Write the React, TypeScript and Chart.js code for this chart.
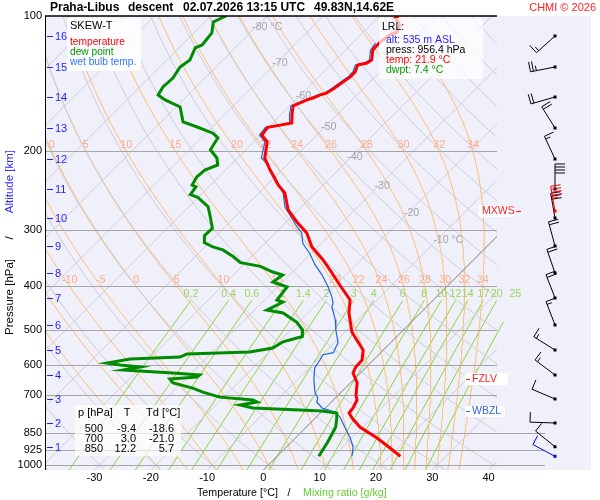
import { useEffect, useRef } from "react"
import { Chart, registerables } from "chart.js"

Chart.register(...registerables)

const FONT = '"Liberation Sans", Arial, sans-serif'

// diagram frame: log pressure vertically, skewed temperature horizontally
const P_TOP = 100
const P_BOTTOM = 1026
const X_MIN = -38.8
const X_MAX = 41.5
const AREA = { left: 45, top: 16, right: 497, bottom: 470 }
const SKEW =
  (AREA.bottom - AREA.top) / Math.log10(P_BOTTOM / P_TOP) / ((AREA.right - AREA.left) / (X_MAX - X_MIN))

// axis ticks
const pressureTicks = [100, 200, 300, 400, 500, 600, 700, 850, 925, 1000]
const longPressureTicks = [850, 925, 1000]
const temperatureTicks = [-30, -20, -10, 0, 10, 20, 30, 40]

// altitude marks [km] and their pressure [hPa]
const altitudeKm = [16, 15, 14, 13, 12, 11, 10, 9, 8, 7, 6, 5, 4, 3, 2, 1]
const altitudePressure = [110.8, 129.9, 151.5, 177.6, 208.2, 242.8, 281.8, 325.3, 373.6, 424.7, 487.7, 554.5, 630.3, 712.8, 806.3, 910.6]

// temperature profile
const tempPressure = [100, 101.0, 104.7, 108.6, 110.2, 114.3, 119.0, 125.3, 127.3, 128.6, 133.3, 136.7, 140.3, 144.7, 148.4, 150.0, 152.3, 153.8, 156.2, 158.6, 164.5, 173.1, 175.0, 177.0, 184.1, 190.8, 207.1, 220.3, 237.9, 247.9, 270.4, 287.6, 304.3, 326.9, 349.5, 373.6, 397.3, 429.1, 458.6, 505.6, 526.8, 554.5, 583.7, 605.0, 623.9, 656.7, 700.0, 716.5, 746.5, 765.9, 785.8, 822.9, 870.7, 916.5, 956.4]
const tempValues = [-56.7, -56.9, -54.8, -54.1, -54.8, -55.3, -55.2, -53.6, -53.9, -55.2, -54.4, -54.4, -54.8, -55.2, -55.7, -56.6, -57.3, -58.0, -58.7, -59.4, -58.3, -56.6, -58.3, -60.1, -59.8, -57.6, -55.2, -52.1, -48.0, -45.4, -41.8, -38.1, -34.4, -31.0, -26.7, -22.8, -19.3, -14.8, -12.7, -8.8, -6.5, -3.6, -2.0, -1.9, -1.3, 1.2, 3.2, 4.2, 4.9, 5.1, 6.5, 9.5, 14.5, 18.6, 21.9]

// dew point profile
const dewPressure = [100, 103.1, 109.1, 116.0, 117.8, 125.3, 129.9, 137.5, 143.9, 150.0, 153.8, 159.4, 172.2, 176.7, 182.4, 186.8, 198.6, 207.1, 214.7, 220.3, 228.3, 237.9, 240.1, 249.9, 253.4, 265.9, 277.5, 297.1, 308.3, 319.5, 326.9, 331.9, 343.4, 354.4, 361.1, 371.7, 377.6, 391.3, 401.4, 429.1, 433.5, 451.8, 458.6, 481.0, 500.5, 517.4, 531.7, 549.0, 560.3, 566.1, 574.9, 580.8, 592.8, 598.9, 605.0, 614.4, 623.9, 630.3, 636.8, 643.4, 656.7, 674.0, 688.0, 706.1, 716.5, 723.9, 735.2, 746.5, 754.2, 758.0, 765.9, 785.8, 822.9, 858.4, 892.1, 956.4]
const dewValues = [-87.3, -88.5, -86.8, -86.4, -87.1, -85.9, -86.4, -85.7, -85.9, -85.3, -83.2, -79.3, -76.1, -72.7, -68.8, -67.1, -66.3, -63.7, -62.3, -63.7, -63.9, -63.3, -62.3, -61.9, -60.1, -56.6, -54.8, -52.0, -52.1, -50.9, -48.6, -46.3, -43.3, -40.9, -36.7, -33.5, -31.2, -31.7, -28.3, -27.8, -26.4, -27.8, -24.4, -20.3, -17.9, -16.8, -19.3, -20.0, -23.4, -34.2, -34.9, -43.4, -46.8, -44.1, -40.2, -42.7, -33.3, -28.2, -28.3, -32.8, -31.5, -27.1, -24.6, -20.7, -14.3, -13.2, -15.7, -12.9, -4.2, -0.1, 2.9, 3.8, 5.2, 5.9, 6.5, 7.4]

// wet bulb profile
const wetPressure = [114.9, 119.0, 125.3, 127.3, 128.6, 133.3, 136.7, 140.3, 144.7, 148.4, 150.0, 152.3, 153.8, 156.2, 158.6, 164.5, 173.1, 175.0, 177.0, 184.1, 190.8, 207.1, 212.8, 228.3, 247.9, 266.3, 277.5, 295.0, 304.3, 320.7, 337.6, 358.0, 377.6, 401.4, 422.2, 435.7, 444.5, 475.1, 500.4, 534.9, 545.1, 562.2, 567.9, 583.7, 608.1, 643.4, 688.0, 709.7, 723.9, 746.5, 762.0, 781.8, 822.9, 866.3, 910.6, 956.4]
const wetValues = [-55.9, -55.6, -54.0, -54.3, -55.6, -54.8, -54.8, -55.2, -55.6, -56.1, -57.0, -57.7, -58.4, -59.1, -59.8, -58.7, -57.0, -58.7, -60.5, -60.2, -58.0, -55.8, -53.9, -50.0, -45.7, -42.9, -40.6, -37.2, -35.3, -33.3, -30.3, -27.3, -24.2, -21.0, -18.6, -17.3, -16.8, -13.9, -12.0, -9.3, -9.0, -8.4, -9.9, -9.5, -9.0, -7.2, -4.7, -3.1, -2.6, -0.6, 2.4, 4.2, 6.8, 9.5, 11.8, 13.3]

// wind barbs (one per km level + surface)
const windPressure = [110.8, 129.9, 151.5, 177.6, 208.2, 242.8, 281.8, 325.3, 373.6, 424.7, 487.7, 554.5, 630.3, 712.8, 806.3, 910.6, 956.4]
const windDirection = [228, 259, 254, 328, 335, 0, 350, 345, 341, 339, 339, 302, 307, 293, 272, 309, 298]
const windSpeed = [15, 25, 20, 20, 15, 40, 30, 20, 20, 20, 15, 15, 15, 10, 10, 10, 10]
const maxWind = { pressure: 271.9, direction: 350, speed: 45 }

// levels
const freezingLevel = 643.6
const wetBulbZeroLevel = 758

// table
const tablePressure = [500, 700, 850]
const tableTemp = [-9.4, 3.0, 12.2]
const tableDew = [-18.6, -21.0, 5.7]

// reference lines
const isotherms = [-120, -110, -100, -90, -80, -70, -60, -50, -40, -30, -20, -10, 0, 10, 20, 30, 40]
const dryAdiabats = [-40, -30, -20, -10, 0, 10, 20, 30, 40, 50, 60, 70, 80, 90, 100, 110, 120, 130, 140, 150, 160, 170, 180]
const moistAdiabats = [-20, -15, -10, -5, 0, 5, 10, 15, 20, 22, 24, 26, 28, 30, 32, 34]
const mixingRatios = [0.2, 0.4, 0.6, 1, 1.4, 2, 3, 4, 6, 8, 10, 12, 14, 17, 20, 25]
const mixingLevels = [1026, 950, 850, 750, 650, 550, 480, 430]
const isothermLabelTemps = [-80, -70, -60, -50, -40, -30, -20, -10]
const isothermLabelPressures = [105.8, 127.3, 150.7, 176.7, 206.1, 239.1, 274.6, 315.4]

const skewX = (t: number, p: number) => t + SKEW * Math.log10(P_BOTTOM / p)
const profile = (ps: number[], ts: number[]) =>
  ps.slice(0, Math.min(ps.length, ts.length)).map((p, i) => ({ x: skewX(ts[i], p), y: p }))

const curveLevels = Array.from({ length: 61 }, (_, i) => P_BOTTOM * Math.pow(P_TOP / P_BOTTOM, i / 60))

const satVap = (tc: number) => 6.112 * Math.exp((17.67 * tc) / (tc + 243.5))

function moistLapse(p: number, tk: number) {
  const es = satVap(tk - 273.15)
  const rs = (0.622 * es) / (p - es)
  const L = 2.501e6
  return (287.04 * tk + L * rs) / (1005.7 + (L * L * rs * 0.622) / (287.04 * tk * tk)) / p
}

function rk4(p: number, tk: number, dp: number) {
  const k1 = moistLapse(p, tk)
  const k2 = moistLapse(p + dp / 2, tk + (dp / 2) * k1)
  const k3 = moistLapse(p + dp / 2, tk + (dp / 2) * k2)
  const k4 = moistLapse(p + dp, tk + dp * k3)
  return tk + (dp / 6) * (k1 + 2 * k2 + 2 * k3 + k4)
}

function moistAdiabat(thetaW: number) {
  let tb = thetaW + 273.15
  for (let p = 1000; p < P_BOTTOM - 0.01; p += 2) tb = rk4(p, tb, Math.min(2, P_BOTTOM - p))
  const points = [{ x: skewX(tb - 273.15, P_BOTTOM), y: P_BOTTOM }]
  let t = thetaW + 273.15
  let t400 = t
  let t200 = t
  for (let i = 0; i <= 450; i++) {
    const p = 1000 - 2 * i
    if (i % 5 === 0) points.push({ x: skewX(t - 273.15, p), y: p })
    if (p === 400) t400 = t - 273.15
    if (p === 200) t200 = t - 273.15
    if (i < 450) t = rk4(p, t, -2)
  }
  return { points, t400, t200 }
}

function mixingTemp(w: number, p: number) {
  const es = ((w / 1000) * p) / (0.622 + w / 1000)
  const l = Math.log(es / 6.112)
  return (243.5 * l) / (17.67 - l)
}

const moistCurves = moistAdiabats.map(moistAdiabat)

const thin = (data: { x: number; y: number }[], color: string, extra = {}) => ({
  data,
  borderColor: color,
  borderWidth: 1,
  pointRadius: 0,
  showLine: true,
  fill: false,
  order: 1,
  ...extra,
})

function text(
  ctx: CanvasRenderingContext2D,
  s: string,
  x: number,
  y: number,
  color: string,
  size = 11,
  align: CanvasTextAlign = "left",
  bold = false
) {
  ctx.font = `${bold ? "bold " : ""}${size}px ${FONT}`
  ctx.fillStyle = color
  ctx.textAlign = align
  ctx.textBaseline = "middle"
  ctx.fillText(s, x, y)
}

function drawBarb(ctx: CanvasRenderingContext2D, x: number, y: number, dir: number, speed: number, color: string) {
  const a = (dir * Math.PI) / 180
  const ux = Math.sin(a)
  const uy = -Math.cos(a)
  const px = -uy
  const py = ux
  const len = 25
  ctx.strokeStyle = color
  ctx.fillStyle = color
  ctx.lineWidth = 1
  ctx.beginPath()
  ctx.moveTo(x, y)
  ctx.lineTo(x + ux * len, y + uy * len)
  let rest = Math.round(speed / 5) * 5
  let pos = len
  while (rest >= 10) {
    const bx = x + ux * pos
    const by = y + uy * pos
    ctx.moveTo(bx, by)
    ctx.lineTo(bx + px * 10, by + py * 10)
    pos -= 3
    rest -= 10
  }
  if (rest >= 5) {
    if (pos === len) pos -= 3
    const bx = x + ux * pos
    const by = y + uy * pos
    ctx.moveTo(bx, by)
    ctx.lineTo(bx + px * 5, by + py * 5)
  }
  ctx.stroke()
  ctx.fillRect(x - 1.5, y - 1.5, 3, 3)
}

const skewTPlugin = {
  id: "skewT",
  beforeDraw(chart: Chart) {
    const { ctx, chartArea: a } = chart
    ctx.save()
    ctx.fillStyle = "#ffffff"
    ctx.fillRect(0, 0, chart.width, chart.height)
    ctx.fillStyle = "#f0f0fb"
    ctx.fillRect(a.left, a.top, 591 - a.left, a.bottom - a.top)
    ctx.restore()
  },
  beforeDatasetDraw(chart: Chart, args: { index: number }) {
    if (args.index !== 2) return
    const { ctx, chartArea: a } = chart
    const xs = chart.scales.x
    const ys = chart.scales.y
    ctx.save()
    // pressure lines
    ctx.strokeStyle = "#a6a6a6"
    ctx.lineWidth = 1.2
    pressureTicks.slice(1).forEach((p) => {
      const y = Math.round(ys.getPixelForValue(p)) + 0.5
      ctx.beginPath()
      ctx.moveTo(a.left, y)
      ctx.lineTo(longPressureTicks.includes(p) ? 545 : a.right, y)
      ctx.stroke()
    })
    // isotherm labels
    isothermLabelTemps.forEach((t, i) => {
      const p = isothermLabelPressures[i]
      const s = t === -80 || t === -10 ? `${t} °C` : `${t}`
      text(ctx, s, xs.getPixelForValue(skewX(t, p)) - 4, ys.getPixelForValue(p), "#a4a4a4", 10.7)
    })
    // moist adiabat labels
    moistCurves.forEach((c, i) => {
      const lo = xs.getPixelForValue(skewX(c.t400, 400))
      if (lo > 50 && lo < 494) text(ctx, `${moistAdiabats[i]}`, lo, ys.getPixelForValue(400) - 6, "#ffaa8c", 10.7, "center")
      const hi = xs.getPixelForValue(skewX(c.t200, 200))
      if (hi > 48 && hi < 494 && moistAdiabats[i] >= 0)
        text(ctx, `${moistAdiabats[i]}`, hi, ys.getPixelForValue(200) - 6, "#ffaa8c", 10.7, "center")
    })
    // mixing ratio labels
    const top = mixingLevels[mixingLevels.length - 1]
    mixingRatios.forEach((w) => {
      const x = xs.getPixelForValue(skewX(mixingTemp(w, top), top))
      text(ctx, `${w}`, x, ys.getPixelForValue(top) - 6, "#99d65c", 10.7, "center")
    })
    ctx.restore()
  },
  afterDatasetsDraw(chart: Chart) {
    const { ctx, chartArea: a } = chart
    const xs = chart.scales.x
    const ys = chart.scales.y
    ctx.save()

    // frame
    ctx.strokeStyle = "#000000"
    ctx.lineWidth = 1.5
    ctx.beginPath()
    ctx.moveTo(a.left, a.top)
    ctx.lineTo(a.right, a.top)
    ctx.stroke()
    ctx.lineWidth = 1
    ctx.beginPath()
    ctx.moveTo(a.left + 0.5, a.top)
    ctx.lineTo(a.left + 0.5, a.bottom)
    ctx.stroke()

    // axis tick labels
    pressureTicks.forEach((p) => text(ctx, `${p}`, 42, ys.getPixelForValue(p), "#000000", 11, "right"))
    temperatureTicks.forEach((t) => text(ctx, `${t}`, xs.getPixelForValue(t), 478, "#000000", 11, "center"))

    // altitude marks
    ctx.strokeStyle = "#1f1fff"
    altitudeKm.forEach((km, i) => {
      const y = Math.round(ys.getPixelForValue(altitudePressure[i])) + 0.5
      ctx.beginPath()
      ctx.moveTo(47, y)
      ctx.lineTo(53, y)
      ctx.stroke()
      text(ctx, `${km}`, 55, y, "#1f1fff", 11)
    })

    // legend box
    ctx.fillStyle = "rgba(255,255,255,0.85)"
    ctx.fillRect(67, 18, 74, 53)
    text(ctx, "SKEW-T", 70, 26, "#000000", 11)
    text(ctx, "temperature", 70, 42, "#ff0000", 10.2)
    text(ctx, "dew point", 70, 52, "#009a00", 10.2)
    text(ctx, "wet bulb temp.", 70, 62, "#3377ff", 10.2)

    // LRL box
    ctx.fillStyle = "rgba(255,255,255,0.7)"
    ctx.fillRect(379, 18, 104, 61)
    text(ctx, "LRL:", 382, 27, "#000000", 10.5)
    text(ctx, "alt: 535 m ASL", 386, 40, "#1f1fff", 10.5)
    text(ctx, "press: 956.4 hPa", 386, 50, "#000000", 10.5)
    text(ctx, "temp: 21.9 °C", 386, 60, "#ff0000", 10.5)
    text(ctx, "dwpt: 7.4 °C", 386, 70, "#00a000", 10.5)

    // table box
    ctx.fillStyle = "rgba(255,255,255,0.7)"
    ctx.fillRect(75, 405, 106, 51)
    text(ctx, "p [hPa]", 78, 413, "#000000", 11)
    text(ctx, "T", 127, 413, "#000000", 11, "center")
    text(ctx, "Td [°C]", 146, 413, "#000000", 11)
    tablePressure.forEach((p, i) => {
      const y = 429 + i * 10
      text(ctx, `${p}`, 103, y, "#000000", 11, "right")
      text(ctx, tableTemp[i].toFixed(1), 136, y, "#000000", 11, "right")
      text(ctx, tableDew[i].toFixed(1), 174, y, "#000000", 11, "right")
    })

    // level markers
    const yMx = ys.getPixelForValue(maxWind.pressure)
    ctx.fillStyle = "#ffffff"
    ctx.fillRect(479, yMx - 6, 35, 12)
    text(ctx, "MXWS", 482, yMx, "#ff2020", 10.5)
    ctx.strokeStyle = "#ff2020"
    ctx.beginPath()
    ctx.moveTo(516, Math.round(yMx) + 0.5)
    ctx.lineTo(521, Math.round(yMx) + 0.5)
    ctx.stroke()

    const yFz = ys.getPixelForValue(freezingLevel)
    ctx.fillStyle = "#ffffff"
    ctx.fillRect(465, yFz - 6, 43, 12)
    text(ctx, "FZLV", 472, yFz, "#ff2020", 10.5)
    ctx.beginPath()
    ctx.moveTo(466, Math.round(yFz) + 0.5)
    ctx.lineTo(470, Math.round(yFz) + 0.5)
    ctx.stroke()

    const yWb = ys.getPixelForValue(wetBulbZeroLevel)
    ctx.fillStyle = "#ffffff"
    ctx.fillRect(465, yWb - 5, 40, 11)
    text(ctx, "WBZL", 472, yWb, "#3366dd", 10.5)
    ctx.strokeStyle = "#3366dd"
    ctx.beginPath()
    ctx.moveTo(466, Math.round(yWb) + 0.5)
    ctx.lineTo(470, Math.round(yWb) + 0.5)
    ctx.stroke()

    // wind barbs
    windPressure.forEach((p, i) => {
      const color = i === windPressure.length - 1 ? "#0000ee" : "#000000"
      drawBarb(ctx, 555, ys.getPixelForValue(p), windDirection[i], windSpeed[i], color)
    })
    drawBarb(ctx, 555, yMx, maxWind.direction, maxWind.speed, "#ff0000")

    // titles
    text(ctx, "Praha-Libus", 50, 8, "#000000", 12, "left", true)
    text(ctx, "descent", 128, 8, "#000000", 12, "left", true)
    text(ctx, "02.07.2026 13:15 UTC", 183, 8, "#000000", 12, "left", true)
    text(ctx, "49.83N,14.62E", 314, 8, "#000000", 12, "left", true)
    text(ctx, "CHMI © 2026", 596, 8, "#ff2020", 11, "right")

    text(ctx, "Temperature [°C]", 197, 493, "#000000", 10.7)
    text(ctx, "/", 289, 493, "#000000", 10.7, "center")
    text(ctx, "Mixing ratio [g/kg]", 303, 493, "#66cc33", 10.7)

    const vertical = (s: string, y: number, color: string, align: CanvasTextAlign) => {
      ctx.save()
      ctx.translate(10, y)
      ctx.rotate(-Math.PI / 2)
      text(ctx, s, 0, 0, color, 11.5, align)
      ctx.restore()
    }
    vertical("Pressure [hPa]", 335, "#000000", "left")
    vertical("/", 238, "#000000", "center")
    vertical("Altitude [km]", 150, "#2a2aff", "right")

    ctx.restore()
  },
}

export default function App() {
  const canvasRef = useRef<HTMLCanvasElement>(null)

  useEffect(() => {
    if (!canvasRef.current) return

    const datasets = [
      { data: profile(tempPressure, tempValues), borderColor: "#ff0000", borderWidth: 3, pointRadius: 0, showLine: true, order: 0 },
      { data: profile(dewPressure, dewValues), borderColor: "#008c00", borderWidth: 3, pointRadius: 0, showLine: true, order: 0 },
      { data: profile(wetPressure, wetValues), borderColor: "#1e64e6", borderWidth: 1.2, pointRadius: 0, showLine: true, order: 0 },
      ...isotherms.map((t) =>
        thin(
          [
            { x: skewX(t, P_BOTTOM), y: P_BOTTOM },
            { x: skewX(t, P_TOP), y: P_TOP },
          ],
          t === 0 ? "#7a7a7a" : "#cdcdd6"
        )
      ),
      ...dryAdiabats.map((th) =>
        thin(
          curveLevels.map((p) => ({ x: skewX((th + 273.15) * Math.pow(p / 1000, 0.286) - 273.15, p), y: p })),
          "#cdcdd6"
        )
      ),
      ...moistCurves.map((c) => thin(c.points, "#ffbe6e")),
      ...mixingRatios.map((w) =>
        thin(
          mixingLevels.map((p) => ({ x: skewX(mixingTemp(w, p), p), y: p })),
          "#8ed23a",
          { clip: false }
        )
      ),
    ]

    const chart = new Chart(canvasRef.current, {
      type: "scatter",
      data: { datasets },
      options: {
        animation: false,
        responsive: false,
        events: [],
        layout: { padding: { left: AREA.left, top: AREA.top, right: 600 - AREA.right, bottom: 500 - AREA.bottom } },
        plugins: { legend: { display: false }, tooltip: { enabled: false } },
        scales: {
          x: { type: "linear", min: X_MIN, max: X_MAX, display: false, bounds: "data" },
          y: { type: "logarithmic", min: P_TOP, max: P_BOTTOM, reverse: true, display: false, bounds: "data" },
        },
      },
      plugins: [skewTPlugin],
    })

    return () => {
      chart.destroy()
    }
  }, [])

  return (
    <div style={{ position: "fixed", left: 0, top: 0, width: 600, height: 500, background: "#ffffff" }}>
      <canvas ref={canvasRef} width={600} height={500} style={{ display: "block" }} />
    </div>
  )
}
